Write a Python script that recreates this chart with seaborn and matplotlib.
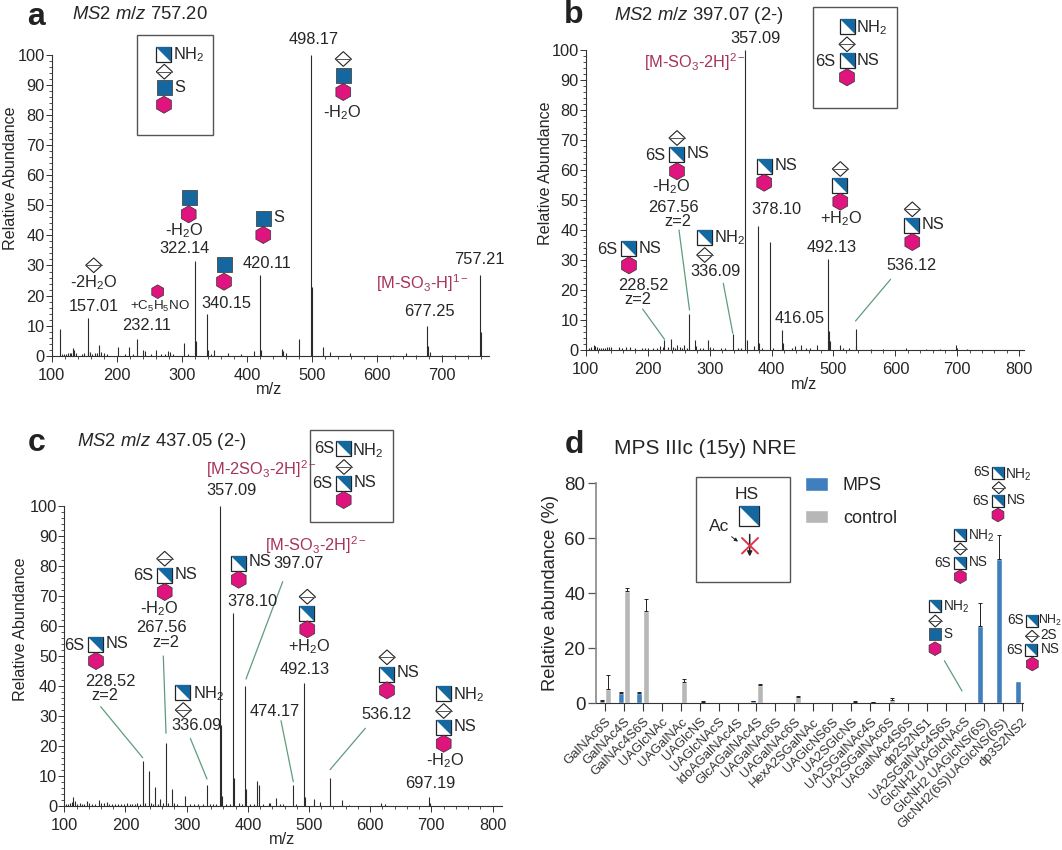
import matplotlib
matplotlib.use("Agg")
import matplotlib.pyplot as plt
from matplotlib.patches import Rectangle, Polygon, RegularPolygon
from matplotlib.ticker import MultipleLocator
from matplotlib.transforms import ScaledTranslation
import seaborn as sns
import pandas as pd

W, H = 1062, 850

# spectrum a, MS2 757.20
a_mz = [112, 155.3, 156.5, 133, 135, 172.7, 202, 219, 231.6, 240, 244, 260, 279, 282, 303, 320.7, 322,
        339, 340.6, 350, 371, 410, 420.5, 421.5, 454, 456, 479.5, 498, 499.5, 516, 528, 558, 644, 677,
        678.5, 680.6, 758.5, 759.6,
        116, 119, 122, 125, 128, 130, 138, 146, 150, 159, 162, 166, 170, 176, 180, 185, 212, 225, 253,
        268, 274, 287, 310, 345, 390, 460, 600, 625, 660, 700, 720, 740]
a_int = [9, 12.5, 1.5, 2.5, 2, 3.7, 2.8, 3, 5.5, 2, 1.7, 2, 1.7, 1.2, 4.2, 31.5, 5,
         14, 2, 2, 1, 1.7, 27, 2, 2.2, 1.5, 5.5, 100, 23, 2.8, 1.3, 1, 0.9, 10,
         3.2, 1.3, 27, 8,
         0.7, 0.7, 0.7, 0.8, 0.8, 1, 0.9, 0.7, 0.8, 1.2, 0.7, 0.8, 0.8, 1.2, 0.9, 0.7, 0.6, 0.6, 0.7,
         0.7, 0.7, 0.7, 0.6, 0.6, 0.4, 0.8, 0.3, 0.3, 0.3, 0.3, 0.3, 0.3]

# spectrum b, MS2 397.07
b_mz = [112.5, 109, 105, 115, 118, 122, 125, 128, 131, 134, 137, 140, 153, 158, 165, 172, 180, 190, 195, 200,
        208, 215, 220, 224, 227, 232, 237, 241, 244, 248, 252, 255, 259, 263, 267, 276, 278, 284, 290, 298,
        300, 305, 318, 325, 337, 345, 350, 357, 360, 372, 378, 379.6, 385, 397.4, 402, 416.4, 418.6, 433,
        437.7, 447.5, 455, 462, 473.6, 491, 492, 493.8, 510.6, 516, 525, 535.7, 537, 560, 580, 617, 650,
        672, 697.5, 699, 715]
b_int = [1.8, 1, 0.7, 1.2, 1, 0.8, 0.7, 0.8, 0.7, 0.9, 1, 1, 1, 0.8, 1, 1, 0.8, 0.7, 0.7, 0.7,
         0.6, 0.7, 1.2, 1, 3.5, 0.9, 3.8, 1, 0.8, 1.8, 0.9, 0.7, 1.7, 0.8, 12, 3.5, 1.5, 0.7, 0.7, 3.4,
         0.9, 0.6, 0.7, 0.6, 5.5, 0.6, 0.7, 100, 3.3, 1.2, 41.5, 2.5, 0.8, 36, 0.8, 6.8, 2.5, 0.8,
         1.2, 1.8, 0.8, 0.6, 1.8, 30.5, 6.5, 3, 1.7, 0.6, 0.6, 7, 1.5, 0.4, 0.5, 0.8, 0.5,
         0.4, 1.6, 0.8, 0.4]

# spectrum c, MS2 437.05
c_mz = [103, 106, 109, 112, 114, 117.5, 121, 125, 129, 133, 137.6, 141, 146, 151, 156, 160, 165, 169, 173, 178,
        183, 188, 193, 197, 202, 207, 211, 215, 219, 223, 228, 232, 238.5, 242, 245, 249, 253, 257, 261, 266,
        270, 275.6, 280, 285, 297.4, 305, 312, 318, 327, 334, 338, 343, 348, 355, 356.3, 358.5, 365, 371,
        376.5, 378, 385, 391, 396, 397.7, 404, 410, 415.7, 419, 425, 434.8, 437, 446, 452, 458, 474.6, 478,
        491.5, 493.7, 509, 518, 535, 553.6, 564.6, 617.5, 624.5, 696.5, 698]
c_int = [0.6, 0.8, 1, 1.4, 3, 1.6, 0.8, 0.9, 0.8, 0.8, 1.8, 1, 0.8, 0.7, 2, 1, 0.9, 1.2, 0.8, 0.7,
         0.8, 0.7, 0.8, 0.7, 0.9, 0.6, 0.7, 0.7, 0.9, 0.8, 15, 1, 11.8, 1, 0.8, 6.2, 0.8, 2.5, 0.9, 21,
         1, 5.7, 1, 0.7, 3.5, 0.7, 0.7, 0.8, 0.8, 7, 0.8, 0.7, 0.7, 100, 27, 3.3, 0.7, 0.8,
         64.5, 9.5, 1, 0.7, 40, 5.8, 0.8, 0.8, 8.3, 7, 0.7, 1, 1, 2.7, 0.8, 0.8, 7, 0.7,
         41, 3, 2.5, 1.3, 9.2, 2, 0.5, 0.9, 0.7, 3, 1]

# panel d
glycans = ["GalNAc6S", "GalNAc4S", "GalNAc4S6S", "UAGlcNAc", "UAGalNAc", "UAGlcNS", "UAGlcNAcS",
           "IdoAGalNAc4S", "GlcAGalNAc4S", "UAGalNAc6S", "UAGalNAc6S", "HexA2SGalNAc", "UAGlcNS6S",
           "UA2SGlcNS", "UA2SGalNAc4S", "UA2SGalNAc6S", "UAGalNAc4S6S", "dp2S2NS1", "UA2SGalNAc4S6S",
           "GlcNH2 UAGlcNAcS", "GlcNH2 UAGlcNS(6S)", "GlcNH2(6S)UAGlcNS(6S)", "dp3S2NS2"]
mps_vals = [1, 3.7, 3.9, 0.1, 0.1, 0.2, 0, 0, 0.9, 0, 0.2, 0.2, 0, 0, 0, 0.2, 0.2, 0, 0, 0.5, 28, 52.5, 8.2]
ctrl_vals = [5.2, 40.7, 33.5, 0, 7.9, 0.6, 0, 0, 6.7, 0, 2.4, 0, 0, 0.4, 0.4, 1.2, 0, 0, 0, 0, 0, 0, 0]
mps_err = [0.1, 0.3, 0.2, 0, 0, 0, 0, 0, 0.1, 0, 0, 0, 0, 0, 0, 0, 0, 0, 0, 0, 8.5, 8.8, 0]
ctrl_err = [5, 1.3, 4.3, 0, 1.1, 0.1, 0, 0, 0.2, 0, 0.3, 0, 0, 0.3, 0.2, 0.6, 0, 0, 0, 0, 0, 0, 0]

INK = "#262626"
RED = "#a8325a"
GREEN = "#5f9c7c"
BLUE = "#14689f"
PINK = "#e0147f"
MPS_C = "#3f7fbd"
CTRL_C = "#b7b7b7"

sns.set_theme(style="ticks")
plt.rcParams["font.family"] = ["Liberation Sans", "DejaVu Sans"]
plt.rcParams["mathtext.fontset"] = "custom"
plt.rcParams["mathtext.rm"] = "Liberation Sans"
plt.rcParams["mathtext.it"] = "Liberation Sans:italic"
plt.rcParams["mathtext.bf"] = "Liberation Sans:bold"
plt.rcParams["mathtext.default"] = "regular"

fig = plt.figure(figsize=(W / 100, H / 100), dpi=100, facecolor="white")


def axes_px(left, top, right, bottom):
    return fig.add_axes([left / W, 1 - bottom / H, (right - left) / W, (bottom - top) / H])


def spectrum(rect, mz, inten, xmax, xticks):
    ax = axes_px(*rect)
    ax.vlines(mz, 0, inten, color="#2b2b2b", lw=0.8)
    ax.set_xlim(100, xmax)
    ax.set_ylim(0, 100)
    ax.set_xticks(xticks)
    ax.set_yticks(range(0, 101, 10))
    ax.xaxis.set_minor_locator(MultipleLocator(20))
    ax.yaxis.set_minor_locator(MultipleLocator(2))
    ax.tick_params(which="major", length=4.5, width=0.7, labelsize=11.8, color="#333333", labelcolor=INK)
    ax.tick_params(axis="y", which="major", pad=0.5)
    ax.tick_params(axis="x", which="major", pad=4)
    ax.tick_params(which="minor", length=2.5, width=0.6, color="#333333")
    ax.patch.set_alpha(0)
    sns.despine(ax=ax)
    for side in ("left", "bottom"):
        ax.spines[side].set_linewidth(0.8)
        ax.spines[side].set_color("#333333")
    return ax


spectrum((51.7, 55, 489, 355.7), a_mz, a_int, 771.7, range(100, 701, 100))
spectrum((585.8, 50, 1023.6, 350), b_mz, b_int, 807, range(100, 801, 100))
spectrum((64.3, 506, 502.3, 806), c_mz, c_int, 816, range(100, 801, 100))

# bar panel
df = pd.DataFrame({
    "glycan": list(range(len(glycans))) * 2,
    "group": ["MPS"] * len(glycans) + ["control"] * len(glycans),
    "value": mps_vals + ctrl_vals,
})
ax_d = axes_px(595.9, 483.3, 1022.7, 703.3)
sns.barplot(data=df, x="glycan", y="value", hue="group", hue_order=["MPS", "control"],
            palette={"MPS": MPS_C, "control": CTRL_C}, saturation=1, errorbar=None,
            width=0.72, gap=0.12, ax=ax_d)
for container, err in zip(ax_d.containers, (mps_err, ctrl_err)):
    xs = [r.get_x() + r.get_width() / 2 for r in container]
    ys = [r.get_height() for r in container]
    keep = [i for i in range(len(xs)) if err[i] > 0]
    ax_d.errorbar([xs[i] for i in keep], [ys[i] for i in keep], yerr=[[0] * len(keep), [err[i] for i in keep]],
                  fmt="none", ecolor="#222222", elinewidth=0.7, capsize=1.5, capthick=0.7)
ax_d.set_xlim(-0.48, 22.06)
ax_d.set_ylim(0, 80)
ax_d.set_yticks([0, 20, 40, 60, 80])
ax_d.set_xticks(range(len(glycans)))
ax_d.set_xticklabels(glycans, rotation=45, ha="right", rotation_mode="anchor", fontsize=9.4, color="#333333")
shift = ScaledTranslation(8 / 100, 2 / 100, fig.dpi_scale_trans)
for tl in ax_d.get_xticklabels():
    tl.set_transform(tl.get_transform() + shift)
ax_d.set_xlabel("")
ax_d.set_ylabel("Relative abundance (%)", fontsize=13.2, color=INK)
ax_d.yaxis.set_label_coords(-0.086, 0.5)
ax_d.tick_params(axis="y", length=6, width=0.9, labelsize=13.5, pad=1.5, color="#555555", labelcolor=INK)
ax_d.tick_params(axis="x", length=6, width=0.8, pad=3, color="#333333")
ax_d.patch.set_alpha(0)
sns.despine(ax=ax_d)
ax_d.spines["left"].set_color("#888888")
ax_d.spines["left"].set_linewidth(1.2)
ax_d.spines["bottom"].set_color("#333333")
ax_d.spines["bottom"].set_linewidth(0.8)
sns.move_legend(ax_d, "upper left", bbox_to_anchor=(805 / W, 1 - 477 / H), bbox_transform=fig.transFigure,
                frameon=False, title=None, fontsize=13, handlelength=1.3, handleheight=0.8,
                labelspacing=0.85, handletextpad=0.8, borderpad=0, borderaxespad=0, labelcolor=INK)

# pixel layer for labels and glycan symbols
ov = fig.add_axes([0, 0, 1, 1], zorder=10)
ov.set_xlim(0, W)
ov.set_ylim(H, 0)
ov.axis("off")


def txt(x, y, s, size=11.8, ha="center", color=INK, **kw):
    ov.text(x, y, s, fontsize=size, ha=ha, va="center", color=color, **kw)


def half(x, y, s=15):
    ov.add_patch(Rectangle((x - s / 2, y - s / 2), s, s, fc="white", ec="#222222", lw=0.9, zorder=3))
    ov.add_patch(Polygon([(x - s / 2, y - s / 2), (x + s / 2, y - s / 2), (x + s / 2, y + s / 2)],
                         fc=BLUE, ec="none", zorder=3))


def solid(x, y, s=15):
    ov.add_patch(Rectangle((x - s / 2, y - s / 2), s, s, fc=BLUE, ec="#555555", lw=0.7, zorder=3))


def hexa(x, y, s=15):
    ov.add_patch(RegularPolygon((x, y), 6, radius=s * 0.57, fc=PINK, ec="#333333", lw=0.5, zorder=3))


def dia(x, y, s=16):
    ov.add_patch(Polygon([(x - s / 2, y), (x, y - s * 0.46), (x + s / 2, y), (x, y + s * 0.46)],
                         fc="white", ec="#222222", lw=0.8, zorder=3))
    ov.plot([x - s / 2, x + s / 2], [y, y], color="#555555", lw=0.7, zorder=4)


def leader(x0, y0, x1, y1):
    ov.plot([x0, x1], [y0, y1], color=GREEN, lw=0.9)


def box(x0, y0, x1, y1):
    ov.add_patch(Rectangle((x0, y0), x1 - x0, y1 - y0, fc="white", ec="#555555", lw=1.0, zorder=2))


H2O_M = "-H$_2$O"
H2O_P = "+H$_2$O"
NH2 = "NH$_2$"
TITLE = 13.3

# panel a
txt(36, 17, "a", size=23, weight="bold", color="#222222")
txt(71.7, 14.5, r"$\mathit{MS2\ m/z}$ 757.20", size=TITLE, ha="left")
txt(10.5, 178, "Relative Abundance", size=11.6, rotation=90)
txt(269.3, 389, "m/z")
box(136.7, 34.7, 213, 135)
half(163.7, 54.3); txt(173, 55, NH2, ha="left"); dia(164.3, 71.7); solid(164, 87.3); txt(174, 87, "S", ha="left"); hexa(164, 104.7)
txt(313.3, 39.3, "498.17")
dia(343.3, 59); solid(343.3, 75); hexa(343.3, 92); txt(342, 112.7, H2O_M)
solid(189, 197.3); hexa(188.7, 214.3); txt(184, 231, H2O_M); txt(184, 248.3, "322.14")
solid(263.3, 218); txt(273.3, 217.3, "S", ha="left"); hexa(263.3, 235); txt(266.7, 263.3, "420.11")
solid(224, 264.7); hexa(224, 281.7); txt(226, 303.7, "340.15")
dia(93.7, 265.3); txt(93.3, 283, "-2H$_2$O"); txt(93.3, 306.7, "157.01")
hexa(157.7, 291.7, 12); txt(160, 306, "+C$_5$H$_5$NO", size=9.6); txt(146.7, 325.7, "232.11")
txt(479.3, 260, "757.21"); txt(422.7, 283.3, "[M-SO$_3$-H]$^{1-}$", color=RED); txt(429, 311, "677.25")

# panel b
txt(574, 15, "b", size=23, weight="bold", color="#222222")
txt(613.5, 15, r"$\mathit{MS2\ m/z}$ 397.07 (2-)", size=TITLE, ha="left")
txt(545, 173.3, "Relative Abundance", size=11.6, rotation=90)
txt(803.8, 384.3, "m/z")
box(813, 7.3, 897, 107.7)
half(847, 26.7); txt(856, 27.7, NH2, ha="left"); dia(847, 44.3); half(847, 60.7)
txt(835, 61, "6S", ha="right"); txt(857, 60, "NS", ha="left"); hexa(847, 77.3)
txt(755.4, 38.3, "357.09"); txt(694.6, 62.3, "[M-SO$_3$-2H]$^{2-}$", color=RED)
dia(677, 138); half(676.4, 154.3); txt(665, 155, "6S", ha="right"); txt(686.5, 153.7, "NS", ha="left"); hexa(677, 171.3)
txt(671.3, 187, H2O_M); txt(673, 207, "267.56"); txt(677.7, 221.7, "z=2"); leader(679, 230, 689.5, 310)
half(764, 166); txt(774.4, 165, "NS", ha="left"); hexa(764.2, 182.7); txt(776.7, 209, "378.10")
dia(840.3, 169); half(839.6, 185.3); hexa(840.3, 201.7); txt(841.3, 219, H2O_P); txt(831.8, 247, "492.13")
dia(912.3, 209.3); half(911.6, 225.7); txt(922, 224.7, "NS", ha="left"); hexa(912.3, 242); txt(912, 265.7, "536.12")
leader(890.6, 279.3, 855.5, 321)
half(704, 237); txt(713.5, 237.7, NH2, ha="left"); dia(704.7, 255); txt(715, 271.7, "336.09"); leader(723.3, 283.3, 732.8, 333.3)
half(628.4, 248.7); txt(617, 249, "6S", ha="right"); txt(639, 248, "NS", ha="left"); hexa(629, 265.3)
txt(643.6, 285.5, "228.52"); txt(638, 300, "z=2"); leader(642.6, 309, 664.5, 339.3)
txt(799.7, 318.3, "416.05")

# panel c
txt(36.7, 442.7, "c", size=23, weight="bold", color="#222222")
txt(77.3, 441.7, r"$\mathit{MS2\ m/z}$ 437.05 (2-)", size=TITLE, ha="left")
txt(20.3, 629, "Relative Abundance", size=11.6, rotation=90)
txt(282, 840, "m/z")
box(310, 430, 392.7, 521.7)
half(343.7, 448.7); txt(334, 448.3, "6S", ha="right"); txt(352.3, 450.7, NH2, ha="left"); dia(344, 467); half(343.3, 483.3)
txt(332.3, 483, "6S", ha="right"); txt(353.7, 482, "NS", ha="left"); hexa(343.7, 500)
txt(261.7, 469.3, "[M-2SO$_3$-2H]$^{2-}$", color=RED); txt(231, 490, "357.09")
txt(316, 545, "[M-SO$_3$-2H]$^{2-}$", color=RED); txt(298.3, 563.7, "397.07"); leader(282.7, 581.7, 246, 679)
half(238.3, 563); txt(249, 562, "NS", ha="left"); hexa(238.7, 579.7); txt(252.3, 601.3, "378.10")
dia(164.7, 558.7); half(164, 575.3); txt(153, 575.7, "6S", ha="right"); txt(174.3, 574.7, "NS", ha="left"); hexa(164.7, 592)
txt(158.7, 608.3, H2O_M); txt(161, 627.7, "267.56"); txt(165.7, 642.7, "z=2"); leader(163.3, 656, 166, 733.3)
dia(307.3, 596.7); half(306.3, 613.3); hexa(307.3, 629.3); txt(308.7, 647, H2O_P); txt(305, 669, "492.13")
txt(274.7, 711, "474.17"); leader(281, 720.7, 293.3, 781.7)
half(95, 644.3); txt(84.3, 645, "6S", ha="right"); txt(105.3, 644, "NS", ha="left"); hexa(96, 661)
txt(110.3, 681.5, "228.52"); txt(105, 696, "z=2"); leader(100.7, 706.7, 142.7, 757.7)
half(182.7, 692.7); txt(192.7, 693.7, NH2, ha="left"); dia(183.3, 710); txt(196.3, 725.7, "336.09"); leader(190.3, 738.3, 207, 779)
dia(387, 657.3); half(386, 674); txt(396.3, 672.7, "NS", ha="left"); hexa(387, 690.3); txt(386.7, 714.3, "536.12")
leader(365.3, 728.3, 330, 769.7)
half(443, 693.3); txt(452.7, 694.3, NH2, ha="left"); dia(443.7, 711); half(443, 727.3); txt(453.3, 726.7, "NS", ha="left"); hexa(443.7, 743.7)
txt(445, 760.3, H2O_M); txt(430, 783.7, "697.19")

# panel d
txt(574, 445, "d", size=23, weight="bold", color="#222222")
txt(613.5, 448.3, "MPS IIIc (15y) NRE", size=15, ha="left")
box(696.3, 476.7, 789.6, 581.7)
txt(746.7, 494, "HS", size=12.5)
half(749, 516, 20)
txt(719.3, 526.7, "Ac", size=12.5)
ov.annotate("", xy=(740.2, 543.3), xytext=(729.4, 535), arrowprops=dict(arrowstyle="-|>", color="#222222", lw=0.7, mutation_scale=5), zorder=4)
ov.annotate("", xy=(749.7, 559.3), xytext=(749.7, 531.7), arrowprops=dict(arrowstyle="-|>", color="#222222", lw=1.1, mutation_scale=7), zorder=4)
ov.plot([742, 758], [538, 553.5], color="#e0344a", lw=1.4, zorder=5)
ov.plot([758, 742], [538, 553.5], color="#e0344a", lw=1.4, zorder=5)

small = 9.8
half(998, 472.7, 12); txt(989.7, 471.7, "6S", size=small, ha="right"); txt(1005.2, 474.3, NH2, size=small, ha="left")
dia(998.8, 487.7, 13); half(997.8, 501, 12); txt(988.7, 501, "6S", size=small, ha="right"); txt(1006.6, 500, "NS", size=small, ha="left"); hexa(998, 515, 12)
half(960, 534.7, 12); txt(967.7, 535.7, NH2, size=small, ha="left"); dia(960.3, 549, 13); half(959.6, 562.7, 12)
txt(950.8, 563.3, "6S", size=small, ha="right"); txt(968.7, 562.3, "NS", size=small, ha="left"); hexa(960.3, 576.7, 12)
half(934.6, 606.3, 12); txt(942.7, 607.3, NH2, size=small, ha="left"); dia(935.3, 621, 13); solid(935.3, 634.3, 12)
txt(943.4, 633.7, "S", size=small, ha="left"); hexa(935, 648.7, 12); leader(944.4, 660.7, 962, 691)
half(1031.6, 620.7, 12); txt(1024, 620, "6S", size=small, ha="right"); txt(1038.5, 620, NH2, size=8.8, ha="left")
dia(1032, 636.3, 13); txt(1040.4, 634.7, "2S", size=small, ha="left"); half(1031.3, 650, 12)
txt(1022.8, 650, "6S", size=small, ha="right"); txt(1040.4, 649.3, "NS", size=small, ha="left"); hexa(1032.3, 664, 12)

fig.savefig("out.png", dpi=100)
